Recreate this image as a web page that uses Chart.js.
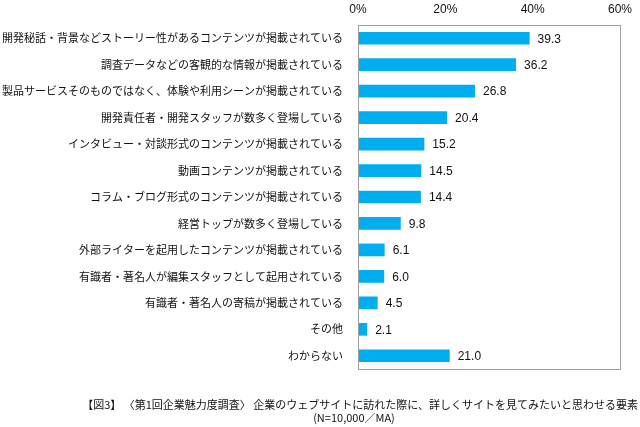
<!DOCTYPE html>
<html><head><meta charset="utf-8">
<script src="https://cdn.jsdelivr.net/npm/chart.js@4/dist/chart.umd.min.js"></script>
<style>
html,body{margin:0;padding:0;background:#fff;}
#wrap{position:relative;width:640px;height:427px;}
.cap{position:absolute;font:11px "Noto Sans CJK JP",sans-serif;line-height:13px;color:#111;white-space:nowrap;}
#cap1{right:2px;top:398px;}
#cap2{left:254px;width:200px;text-align:center;top:411px;}
</style></head>
<body><div id="wrap"><canvas id="c" width="640" height="427"></canvas>
<div class="cap" id="cap1">【図3】 〈第1回企業魅力度調査〉 企業のウェブサイトに訪れた際に、詳しくサイトを見てみたいと思わせる要素</div>
<div class="cap" id="cap2">(N=10,000／MA)</div></div>
<script>
const categories = [
 "開発秘話・背景などストーリー性があるコンテンツが掲載されている",
 "調査データなどの客観的な情報が掲載されている",
 "製品サービスそのものではなく、体験や利用シーンが掲載されている",
 "開発責任者・開発スタッフが数多く登場している",
 "インタビュー・対談形式のコンテンツが掲載されている",
 "動画コンテンツが掲載されている",
 "コラム・ブログ形式のコンテンツが掲載されている",
 "経営トップが数多く登場している",
 "外部ライターを起用したコンテンツが掲載されている",
 "有識者・著名人が編集スタッフとして起用されている",
 "有識者・著名人の寄稿が掲載されている",
 "その他",
 "わからない"
];
const values = [39.3, 36.2, 26.8, 20.4, 15.2, 14.5, 14.4, 9.8, 6.1, 6.0, 4.5, 2.1, 21.0];
const tickValues = [0, 20, 40, 60];

const frame = {
  id: 'frame',
  afterDatasetsDraw(chart) {
    const {ctx, chartArea: a} = chart;
    ctx.save();
    ctx.strokeStyle = '#a0a0a0';
    ctx.lineWidth = 1;
    ctx.strokeRect(Math.round(a.left) + 0.5, Math.round(a.top) + 0.5, Math.round(a.right - a.left), Math.round(a.bottom - a.top));
    const meta = chart.getDatasetMeta(0);
    ctx.fillStyle = '#111';
    ctx.font = '12px "Liberation Sans", Arial, sans-serif';
    ctx.textBaseline = 'middle';
    ctx.textAlign = 'left';
    meta.data.forEach((bar, i) => {
      ctx.fillText(values[i].toFixed(1), bar.x + 8, bar.y + 1);
    });
    ctx.restore();
  }
};

new Chart(document.getElementById('c'), {
  type: 'bar',
  data: {
    labels: categories,
    datasets: [{
      data: values,
      backgroundColor: '#00AEEF',
      borderWidth: 0,
      barPercentage: 0.48,
      categoryPercentage: 1
    }]
  },
  options: {
    indexAxis: 'y',
    responsive: false,
    animation: false,
    layout: { padding: { top: 0, right: 20, bottom: 58, left: 0 } },
    plugins: { legend: { display: false }, tooltip: { enabled: false } },
    scales: {
      x: {
        position: 'top',
        min: 0, max: 60,
        afterBuildTicks(s) { s.ticks = tickValues.map(v => ({value: v})); },
        afterFit(s) { s.height = 25; },
        grid: { display: false, drawTicks: false },
        border: { display: false },
        ticks: {
          padding: 8,
          color: '#111',
          font: { family: '"Liberation Sans", Arial, sans-serif', size: 12 },
          callback: v => v + '%'
        }
      },
      y: {
        afterFit(s) { s.width = 358; },
        grid: { display: false, drawTicks: false },
        border: { display: false },
        ticks: {
          padding: 15,
          color: '#111',
          font: { family: '"Noto Sans CJK JP", sans-serif', size: 11 }
        }
      }
    }
  },
  plugins: [frame]
});
</script></body></html>
